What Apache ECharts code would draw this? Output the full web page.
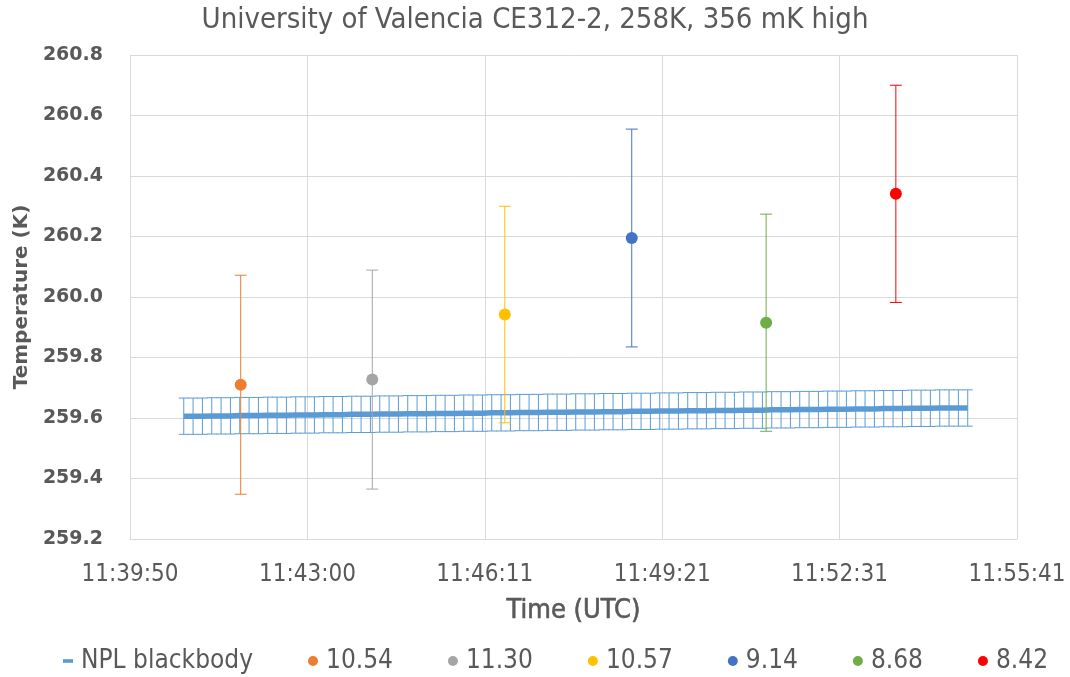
<!DOCTYPE html>
<html>
<head>
<meta charset="utf-8">
<script src="https://cdn.jsdelivr.net/npm/echarts@6/dist/echarts.min.js"></script>
<style>html,body{margin:0;padding:0;background:#fff}#c{width:1070px;height:677px}</style>
</head>
<body>
<div id="c"></div>
<script>
// ---------- DATA ----------
const titleText = 'University of Valencia CE312-2, 258K, 356 mK high';
const xTickLabels = ['11:39:50', '11:43:00', '11:46:11', '11:49:21', '11:52:31', '11:55:41'];
const yTickMin = 259.2, yTickMax = 260.8, yTickStep = 0.2;

// NPL blackbody reference (line with uncertainty bars)
const nplTimes = [
  '11:40:48','11:40:58','11:41:08','11:41:18','11:41:28','11:41:38',
  '11:41:48','11:41:58','11:42:08','11:42:18','11:42:28','11:42:38',
  '11:42:48','11:42:58','11:43:08','11:43:18','11:43:28','11:43:38',
  '11:43:48','11:43:58','11:44:08','11:44:18','11:44:28','11:44:38',
  '11:44:48','11:44:58','11:45:08','11:45:18','11:45:28','11:45:38',
  '11:45:48','11:45:58','11:46:08','11:46:18','11:46:28','11:46:38',
  '11:46:48','11:46:58','11:47:08','11:47:18','11:47:28','11:47:38',
  '11:47:48','11:47:58','11:48:08','11:48:18','11:48:28','11:48:38',
  '11:48:48','11:48:58','11:49:08','11:49:18','11:49:28','11:49:38',
  '11:49:48','11:49:58','11:50:08','11:50:18','11:50:28','11:50:38',
  '11:50:48','11:50:58','11:51:08','11:51:18','11:51:28','11:51:38',
  '11:51:48','11:51:58','11:52:08','11:52:18','11:52:28','11:52:38',
  '11:52:48','11:52:58','11:53:08','11:53:18','11:53:28','11:53:38',
  '11:53:48','11:53:58','11:54:08','11:54:18','11:54:28','11:54:38',
  '11:54:48'
];
const nplValues = [
  259.606,259.606,259.606,259.607,259.607,259.607,
  259.608,259.608,259.608,259.609,259.609,259.609,
  259.610,259.610,259.610,259.611,259.611,259.611,
  259.612,259.612,259.612,259.613,259.613,259.613,
  259.614,259.614,259.614,259.615,259.615,259.615,
  259.616,259.616,259.616,259.617,259.617,259.617,
  259.618,259.618,259.618,259.619,259.619,259.619,
  259.620,259.620,259.620,259.621,259.621,259.621,
  259.622,259.622,259.622,259.623,259.623,259.623,
  259.624,259.624,259.624,259.625,259.625,259.625,
  259.626,259.626,259.626,259.627,259.627,259.627,
  259.628,259.628,259.628,259.629,259.629,259.629,
  259.630,259.630,259.630,259.631,259.631,259.631,
  259.632,259.632,259.632,259.633,259.633,259.633,
  259.633
];
const nplUncertainty = 0.06;

// Participant measurements
const pointNames  = ['10.54', '11.30', '10.57', '9.14', '8.68', '8.42'];
const pointTimes  = ['11:41:49', '11:44:10', '11:46:32', '11:48:48', '11:51:12', '11:53:31'];
const pointValues = [259.710, 259.727, 259.942, 260.195, 259.915, 260.341];
const pointErrors = [0.362, 0.362, 0.358, 0.360, 0.359, 0.359];
const pointColors = ['#ED7D31', '#A5A5A5', '#FFC000', '#4472C4', '#70AD47', '#FF0000'];
const nplColor = '#5B9BD5';

// ---------- HELPERS ----------
const axisStartSec = 0.486 * 86400;      // Excel axis minimum (day fraction)
const axisStepSec  = 0.0022 * 86400;     // Excel major unit (day fraction)
function toSec(s) { const p = s.split(':').map(Number); return p[0] * 3600 + p[1] * 60 + p[2]; }
function toX(s) { return toSec(s) - axisStartSec; }

const narrow = "'Liberation Sans Narrow', 'DejaVu Sans Condensed', 'Arial Narrow', sans-serif";
const wide = "'DejaVu Sans', Verdana, sans-serif";
const txtColor = '#595959';

function errRenderer(color, capHalf) {
  return function (params, api) {
    const x = api.value(0), lo = api.value(1), hi = api.value(2);
    const a = api.coord([x, hi]), b = api.coord([x, lo]);
    const st = { stroke: color, lineWidth: 1 };
    return {
      type: 'group',
      children: [
        { type: 'line', shape: { x1: a[0], y1: a[1], x2: b[0], y2: b[1] }, style: st },
        { type: 'line', shape: { x1: a[0] - capHalf, y1: a[1], x2: a[0] + capHalf, y2: a[1] }, style: st },
        { type: 'line', shape: { x1: b[0] - capHalf, y1: b[1], x2: b[0] + capHalf, y2: b[1] }, style: st }
      ]
    };
  };
}

const series = [];
series.push({
  name: 'NPL blackbody-err', type: 'custom', z: 2,
  renderItem: errRenderer(nplColor, 5),
  encode: { x: 0, y: [1, 2] },
  data: nplTimes.map((t, i) => [toX(t), nplValues[i] - nplUncertainty, nplValues[i] + nplUncertainty]),
  silent: true
});
series.push({
  name: 'NPL blackbody', type: 'line', z: 3, showSymbol: false, symbol: 'none',
  lineStyle: { color: nplColor, width: 5.5 }, itemStyle: { color: nplColor },
  data: nplTimes.map((t, i) => [toX(t), nplValues[i]]),
  animation: false
});
pointNames.forEach((n, i) => {
  series.push({
    name: n + '-err', type: 'custom', z: 4,
    renderItem: errRenderer(pointColors[i], 6),
    encode: { x: 0, y: [1, 2] },
    data: [[toX(pointTimes[i]), pointValues[i] - pointErrors[i], pointValues[i] + pointErrors[i]]],
    silent: true
  });
  series.push({
    name: n, type: 'scatter', z: 5, symbol: 'circle', symbolSize: 12,
    itemStyle: { color: pointColors[i], opacity: 1 },
    data: [[toX(pointTimes[i]), pointValues[i]]]
  });
});

const legendData = [{ name: 'NPL blackbody', icon: 'path://M0,0 L11,0 L11,4 L0,4 Z', itemStyle: { color: nplColor } }]
  .concat(pointNames.map(n => ({ name: n, icon: 'circle' })));

const chart = echarts.init(document.getElementById('c'), null, { renderer: 'canvas' });
chart.setOption({
  animation: false,
  backgroundColor: '#fff',
  title: {
    text: titleText, left: 'center', top: 1,
    textStyle: { fontFamily: narrow, fontSize: 29, fontWeight: 'normal', color: txtColor }
  },
  grid: { left: 130, right: 53, top: 55, bottom: 138, containLabel: false },
  legend: {
    data: legendData, left: 58, top: 643, itemGap: 55, itemWidth: 10, itemHeight: 10,
    textStyle: { fontFamily: narrow, fontSize: 26, color: txtColor, padding: [0, 0, 0, 3] }
  },
  xAxis: {
    type: 'value', min: 0, max: axisStepSec * (xTickLabels.length - 1), interval: axisStepSec,
    name: 'Time (UTC)', nameLocation: 'middle', nameGap: 58,
    nameTextStyle: { fontFamily: narrow, fontSize: 27, fontWeight: 'normal', color: txtColor, textBorderColor: txtColor, textBorderWidth: 0.6 },
    axisLine: { show: true, lineStyle: { color: '#D9D9D9' } },
    axisTick: { show: false },
    splitLine: { show: true, lineStyle: { color: '#D9D9D9' } },
    axisLabel: {
      margin: 24, fontFamily: narrow, fontSize: 24, color: txtColor,
      formatter: v => xTickLabels[Math.round(v / axisStepSec)] || ''
    }
  },
  yAxis: {
    type: 'value', min: yTickMin, max: yTickMax, interval: yTickStep,
    name: 'Temperature (K)', nameLocation: 'middle', nameGap: 95,
    nameTextStyle: { fontFamily: wide, fontSize: 20, fontWeight: 'bold', color: txtColor },
    axisLine: { show: true, lineStyle: { color: '#D9D9D9' } },
    axisTick: { show: false },
    splitLine: { show: true, lineStyle: { color: '#D9D9D9' } },
    axisLabel: {
      margin: 27, fontFamily: wide, fontSize: 19, fontWeight: 'bold', color: txtColor,
      formatter: v => v.toFixed(1)
    }
  },
  series: series
});
</script>
</body>
</html>
